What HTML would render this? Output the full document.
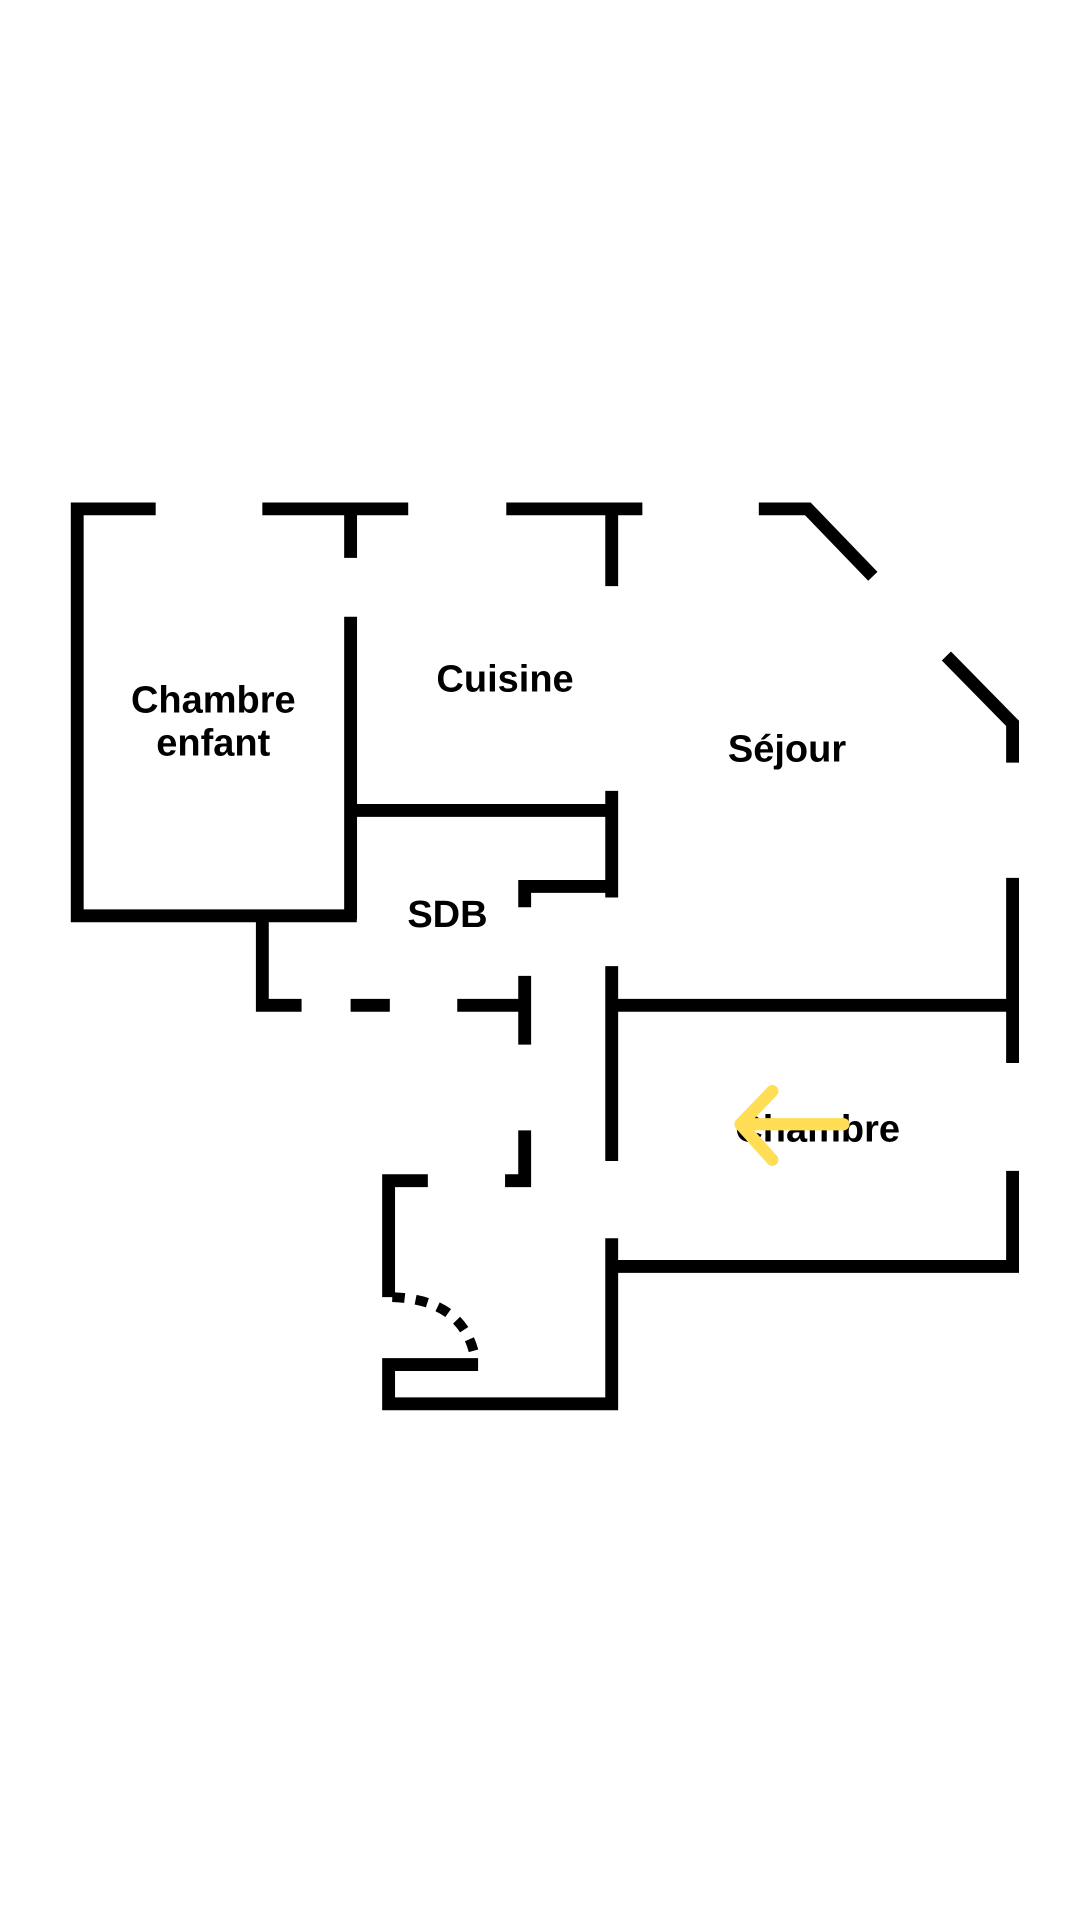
<!DOCTYPE html>
<html><head><meta charset="utf-8"><style>
html,body{margin:0;padding:0;background:#fff;}
svg{display:block;}
text{font-family:"Liberation Sans",sans-serif;font-weight:bold;font-size:31px;fill:#000;text-anchor:middle;}
</style></head><body>
<svg width="1080" height="1920" viewBox="0 0 881 1566" xmlns="http://www.w3.org/2000/svg">
<rect width="881" height="1566" fill="#fff"/>
<g stroke="#000" stroke-width="10.5" fill="none" stroke-linecap="butt" stroke-linejoin="miter">
<polyline points="127,415 63,415 63,747 291,747"/>
<line x1="214" y1="415" x2="333" y2="415"/>
<line x1="413" y1="415" x2="524" y2="415"/>
<polyline points="619,415 659,415 712,470"/>
<line x1="286" y1="415" x2="286" y2="455"/>
<line x1="499" y1="415" x2="499" y2="478"/>
<line x1="286" y1="503" x2="286" y2="750"/>
<polyline points="772,535 826,590 826,622"/>
<line x1="286" y1="661" x2="499" y2="661"/>
<line x1="499" y1="645" x2="499" y2="732"/>
<polyline points="428,740 428,723 499,723"/>
<line x1="826" y1="716" x2="826" y2="867"/>
<line x1="499" y1="820" x2="826" y2="820"/>
<line x1="499" y1="788" x2="499" y2="947"/>
<polyline points="214,747 214,820 246,820"/>
<line x1="286" y1="820" x2="318" y2="820"/>
<line x1="373" y1="820" x2="428" y2="820"/>
<line x1="428" y1="796" x2="428" y2="852"/>
<polyline points="428,922 428,963 412,963"/>
<polyline points="349,963 317,963 317,1058"/>
<polyline points="390,1113 317,1113 317,1145 499,1145 499,1010"/>
<polyline points="826,955 826,1033 499,1033"/>
</g>
<path d="M320,1058 Q380,1060 388,1110" stroke="#000" stroke-width="8" fill="none" stroke-dasharray="10,9"/>
<text x="174" y="581">Chambre</text>
<text x="174" y="616">enfant</text>
<text x="412" y="564">Cuisine</text>
<text x="642" y="621">Séjour</text>
<text x="365" y="756">SDB</text>
<text x="667" y="931">Chambre</text>
<g stroke="#FFDD55" stroke-width="10" fill="none" stroke-linecap="round" stroke-linejoin="round">
<line x1="606" y1="917" x2="688" y2="917"/>
<polyline points="630,890 604,917 630,946"/>
</g>
</svg>
</body></html>
